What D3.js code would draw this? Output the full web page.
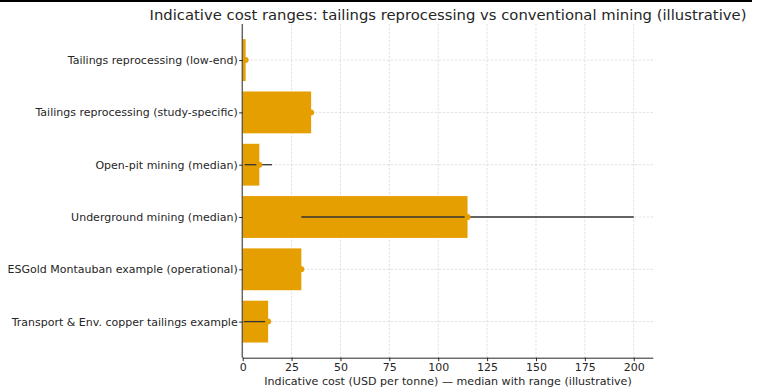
<!DOCTYPE html>
<html><head><meta charset="utf-8">
<script src="https://cdn.jsdelivr.net/npm/d3@7"></script>
<style>body{margin:0;background:#fff}svg{display:block}text{font-family:"DejaVu Sans",sans-serif}</style>
</head><body><svg id="c" width="777" height="392"></svg>
<script>
const categories = [
  "Tailings reprocessing (low-end)",
  "Tailings reprocessing (study-specific)",
  "Open-pit mining (median)",
  "Underground mining (median)",
  "ESGold Montauban example (operational)",
  "Transport & Env. copper tailings example"
];
const medians = [1.5, 35, 8.5, 115, 30, 13];
const lows    = [1, 35, 1, 30, 30, 0.5];
const highs   = [2, 35, 15, 200, 30, 13];
const xTicks  = [0, 25, 50, 75, 100, 125, 150, 175, 200];
const title = "Indicative cost ranges: tailings reprocessing vs conventional mining (illustrative)";
const xLabel = "Indicative cost (USD per tonne) \u2014 median with range (illustrative)";

const svg = d3.select("#c");
const L = 242.7, R = 653.3, T = 24, B = 357.7;
const x = d3.scaleLinear().domain([0, 210]).range([L, R]);
const yIdx = d3.scaleLinear().domain([-0.69, 5.69]).range([T, B]);
const band = yIdx(0.4) - yIdx(-0.4);
const orange = "#E69F00";
const ink = "#262626";

// top artifact line
svg.append("line").attr("x1", 0).attr("x2", 752).attr("y1", 1).attr("y2", 1)
  .attr("stroke", "#000").attr("stroke-width", 2);

// grid
const g = svg.append("g");
g.selectAll(".vg").data(xTicks).join("line")
  .attr("x1", d => x(d)).attr("x2", d => x(d)).attr("y1", T).attr("y2", B)
  .attr("stroke", "#d6d6d6").attr("stroke-width", 0.7).attr("stroke-dasharray", "2.5,1.5");
g.selectAll(".hg").data(categories).join("line")
  .attr("x1", L).attr("x2", R).attr("y1", (d, i) => yIdx(i)).attr("y2", (d, i) => yIdx(i))
  .attr("stroke", "#d6d6d6").attr("stroke-width", 0.7).attr("stroke-dasharray", "2.5,1.5");

// bars
svg.selectAll(".bar").data(medians).join("rect")
  .attr("x", x(0)).attr("y", (d, i) => yIdx(i) - band / 2)
  .attr("width", d => x(d) - x(0)).attr("height", band).attr("fill", orange);

// error ranges
svg.selectAll(".err").data(categories).join("line")
  .attr("x1", (d, i) => x(lows[i])).attr("x2", (d, i) => x(highs[i]))
  .attr("y1", (d, i) => yIdx(i)).attr("y2", (d, i) => yIdx(i))
  .attr("stroke", "#333").attr("stroke-width", 1.3);

// median dots
svg.selectAll(".dot").data(medians).join("circle")
  .attr("cx", d => x(d)).attr("cy", (d, i) => yIdx(i)).attr("r", 3).attr("fill", orange);

// x axis
const xa = svg.append("g").attr("transform", `translate(0,${B})`)
  .call(d3.axisBottom(x).tickValues(xTicks).tickSize(3.5).tickPadding(2.5).tickSizeOuter(0));
xa.select(".domain").attr("stroke", ink).attr("d", `M${L},0.5H${R}`);
xa.selectAll(".tick line").attr("stroke", ink);
xa.selectAll("text").attr("font-size", 11).attr("fill", ink).attr("font-family", "DejaVu Sans");

// y axis
const yScaleBand = d3.scalePoint().domain(categories).range([yIdx(0), yIdx(5)]);
const ya = svg.append("g").attr("transform", `translate(${L},0)`)
  .call(d3.axisLeft(yScaleBand).tickSize(3.5).tickPadding(1.5).tickSizeOuter(0));
ya.select(".domain").attr("stroke", ink).attr("d", `M-0.5,${T}V${B}`);
ya.selectAll(".tick line").attr("stroke", ink);
ya.selectAll("text").attr("font-size", 11).attr("fill", ink).attr("font-family", "DejaVu Sans");

// labels
svg.append("text").attr("x", (L + R) / 2).attr("y", 20).attr("text-anchor", "middle")
  .attr("font-size", 14.8).attr("fill", ink).text(title);
svg.append("text").attr("x", (L + R) / 2).attr("y", 385).attr("text-anchor", "middle")
  .attr("font-size", 11.1).attr("fill", ink).text(xLabel);
</script></body></html>
